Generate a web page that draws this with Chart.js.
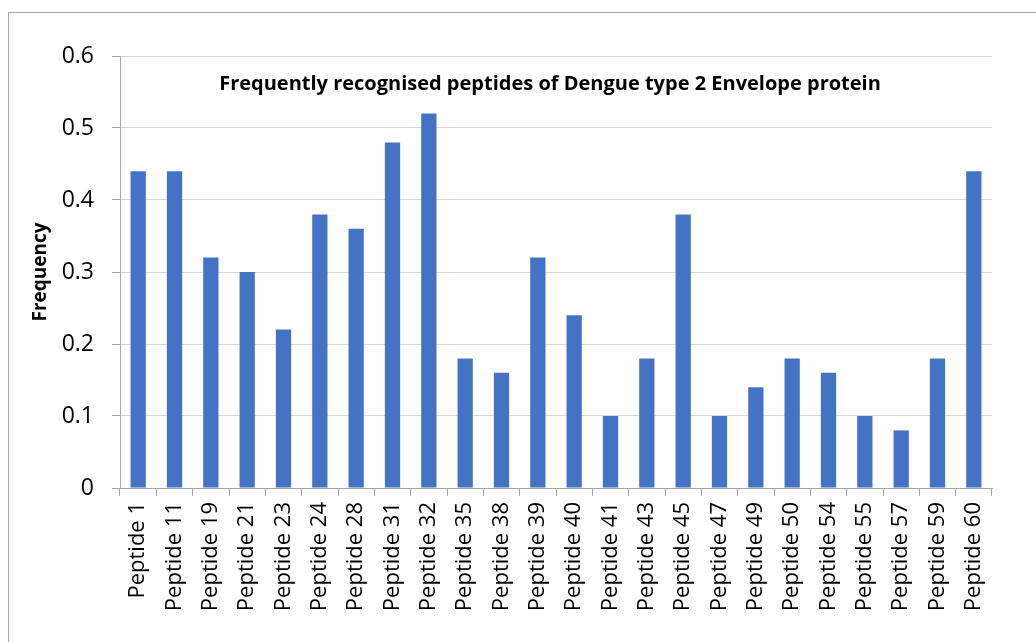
<!DOCTYPE html>
<html>
<head>
<meta charset="utf-8">
<script src="https://cdn.jsdelivr.net/npm/chart.js@4/dist/chart.umd.min.js"></script>
<style>
  html, body { margin: 0; padding: 0; background: #fff; }
  #wrap { position: relative; width: 1036px; height: 642px; overflow: hidden; }
  #frame { position: absolute; left: 8px; top: 12px; width: 1100px; height: 700px; border-left: 1px solid #a6a6a6; border-top: 1px solid #a6a6a6; box-sizing: border-box; pointer-events: none; }
  canvas { position: absolute; left: 0; top: 0; }
</style>
</head>
<body>
<div id="wrap">
  <canvas id="c" width="1036" height="642"></canvas>
  <div id="frame"></div>
</div>
<script>
const categories = ["Peptide 1","Peptide 11","Peptide 19","Peptide 21","Peptide 23","Peptide 24","Peptide 28","Peptide 31","Peptide 32","Peptide 35","Peptide 38","Peptide 39","Peptide 40","Peptide 41","Peptide 43","Peptide 45","Peptide 47","Peptide 49","Peptide 50","Peptide 54","Peptide 55","Peptide 57","Peptide 59","Peptide 60"];
const frequency = [0.44,0.44,0.32,0.30,0.22,0.38,0.36,0.48,0.52,0.18,0.16,0.32,0.24,0.10,0.18,0.38,0.10,0.14,0.18,0.16,0.10,0.08,0.18,0.44];
const yTicks = [0,0.1,0.2,0.3,0.4,0.5,0.6];
const chartTitle = "Frequently recognised peptides of Dengue type 2 Envelope protein";
const yTitle = "Frequency";

const FONT = "'Open Sans', 'Liberation Sans', sans-serif";

const titlePlugin = {
  id: 'innerTitle',
  afterDraw(chart) {
    const ctx = chart.ctx, a = chart.chartArea;
    ctx.save();
    ctx.font = "bold 20px " + FONT;
    ctx.fillStyle = "#000";
    ctx.textAlign = "center";
    ctx.textBaseline = "middle";
    ctx.fillText(chartTitle, 550, a.top + 28);
    ctx.restore();
  }
};

new Chart(document.getElementById('c'), {
  type: 'bar',
  data: {
    labels: categories,
    datasets: [{
      data: frequency,
      backgroundColor: '#4472c4',
      borderWidth: 0,
      barPercentage: 0.42,
      categoryPercentage: 1.0
    }]
  },
  options: {
    responsive: false,
    animation: false,
    devicePixelRatio: 1,
    layout: { padding: { left: 0, top: 56, right: 44, bottom: 0 } },
    plugins: { legend: { display: false }, tooltip: { enabled: false }, title: { display: false } },
    scales: {
      x: {
        offset: true,
        grid: { display: true, drawOnChartArea: false, offset: true, tickLength: 8, color: '#a6a6a6', lineWidth: 1 },
        border: { display: true, color: '#a6a6a6' },
        ticks: { color: '#000', font: { family: FONT, size: 22 }, minRotation: 90, maxRotation: 90, autoSkip: false, padding: 6 },
        afterFit(scale) { scale.height = 154; }
      },
      y: {
        min: 0, max: 0.6,
        afterBuildTicks(scale) { scale.ticks = yTicks.map(v => ({ value: v })); },
        grid: { color: '#d9d9d9', tickLength: 8, tickColor: '#a6a6a6', lineWidth: 1 },
        border: { display: true, color: '#a6a6a6' },
        ticks: { color: '#000', font: { family: FONT, size: 23 }, padding: 18,
          callback: v => (v === 0 ? '0' : v.toFixed(1)) },
        title: { display: true, text: yTitle, color: '#000', font: { family: FONT, size: 19, weight: 'bold' }, padding: { top: 29, bottom: 0 } },
        afterFit(scale) { scale.width = 120; }
      }
    }
  },
  plugins: [titlePlugin]
});
</script>
</body>
</html>
